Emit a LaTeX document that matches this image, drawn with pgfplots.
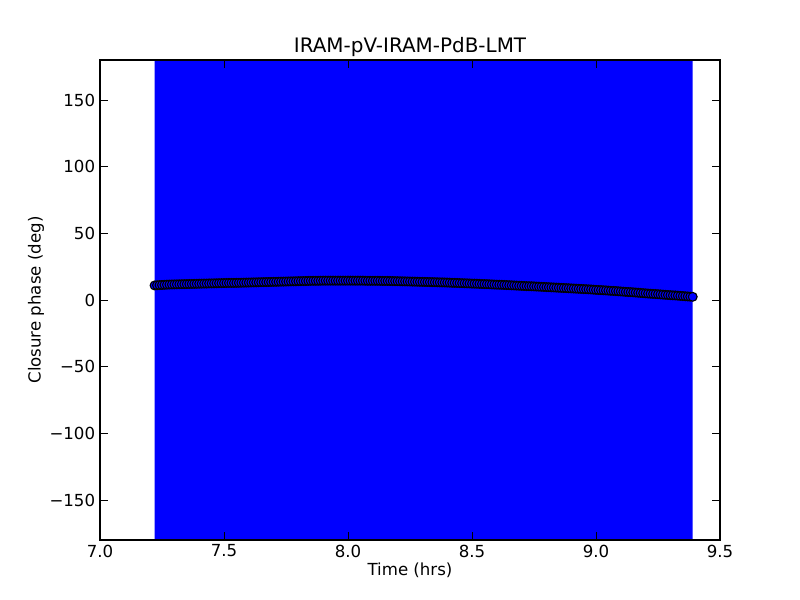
\documentclass[border=0pt]{standalone}
\usepackage{pgfplots}
\pgfplotsset{compat=1.18}
\usepackage{fontspec}
\setmainfont{DejaVu Sans}
\pgfplotstableread{
t cp
7.22 10.9
7.23 11.05
7.24 11.2
7.25 11.3
7.26 11.4
7.27 11.5
7.28 11.6
7.29 11.65
7.30 11.7
7.31 11.75
7.32 11.8
7.33 11.85
7.34 11.9
7.35 11.95
7.36 12.0
7.37 12.05
7.38 12.1
7.39 12.15
7.40 12.2
7.41 12.25
7.42 12.3
7.43 12.35
7.44 12.4
7.45 12.45
7.46 12.5
7.47 12.55
7.48 12.6
7.49 12.65
7.50 12.7
7.51 12.75
7.52 12.8
7.53 12.8
7.54 12.8
7.55 12.85
7.56 12.9
7.57 12.95
7.58 13.0
7.59 13.05
7.60 13.1
7.61 13.15
7.62 13.2
7.63 13.25
7.64 13.3
7.65 13.35
7.66 13.4
7.67 13.45
7.68 13.5
7.69 13.55
7.70 13.6
7.71 13.65
7.72 13.7
7.73 13.75
7.74 13.8
7.75 13.85
7.76 13.9
7.77 13.95
7.78 14.0
7.79 14.05
7.80 14.1
7.81 14.15
7.82 14.2
7.83 14.25
7.84 14.3
7.85 14.35
7.86 14.4
7.87 14.4
7.88 14.4
7.89 14.45
7.90 14.5
7.91 14.5
7.92 14.5
7.93 14.5
7.94 14.5
7.95 14.5
7.96 14.5
7.97 14.5
7.98 14.5
7.99 14.5
8.00 14.5
8.01 14.5
8.02 14.5
8.03 14.5
8.04 14.5
8.05 14.5
8.06 14.5
8.07 14.45
8.08 14.4
8.09 14.4
8.10 14.4
8.11 14.4
8.12 14.4
8.13 14.35
8.14 14.3
8.15 14.3
8.16 14.3
8.17 14.25
8.18 14.2
8.19 14.15
8.20 14.1
8.21 14.05
8.22 14.0
8.23 13.95
8.24 13.9
8.25 13.85
8.26 13.8
8.27 13.75
8.28 13.7
8.29 13.65
8.30 13.6
8.31 13.55
8.32 13.5
8.33 13.45
8.34 13.4
8.35 13.35
8.36 13.3
8.37 13.25
8.38 13.2
8.39 13.15
8.40 13.1
8.41 13.0
8.42 12.9
8.43 12.85
8.44 12.8
8.45 12.7
8.46 12.6
8.47 12.55
8.48 12.5
8.49 12.4
8.50 12.3
8.51 12.25
8.52 12.2
8.53 12.1
8.54 12.0
8.55 11.95
8.56 11.9
8.57 11.8
8.58 11.7
8.59 11.6
8.60 11.5
8.61 11.45
8.62 11.4
8.63 11.3
8.64 11.2
8.65 11.1
8.66 11.0
8.67 10.9
8.68 10.8
8.69 10.7
8.70 10.6
8.71 10.5
8.72 10.4
8.73 10.35
8.74 10.3
8.75 10.2
8.76 10.1
8.77 10.0
8.78 9.9
8.79 9.8
8.80 9.7
8.81 9.6
8.82 9.5
8.83 9.4
8.84 9.3
8.85 9.2
8.86 9.1
8.87 9.0
8.88 8.9
8.89 8.8
8.90 8.7
8.91 8.6
8.92 8.5
8.93 8.4
8.94 8.3
8.95 8.2
8.96 8.1
8.97 8.0
8.98 7.9
8.99 7.75
9.00 7.6
9.01 7.5
9.02 7.4
9.03 7.3
9.04 7.2
9.05 7.05
9.06 6.9
9.07 6.8
9.08 6.7
9.09 6.55
9.10 6.4
9.11 6.25
9.12 6.1
9.13 6.0
9.14 5.9
9.15 5.75
9.16 5.6
9.17 5.45
9.18 5.3
9.19 5.15
9.20 5.0
9.21 4.85
9.22 4.7
9.23 4.6
9.24 4.5
9.25 4.35
9.26 4.2
9.27 4.05
9.28 3.9
9.29 3.75
9.30 3.6
9.31 3.5
9.32 3.4
9.33 3.25
9.34 3.1
9.35 2.95
9.36 2.8
9.37 2.65
9.38 2.5
9.39 2.4
}\cpdata
\begin{document}
\begin{tikzpicture}
\useasboundingbox (-1in,-0.6in) rectangle (7.0in,5.4in);
\begin{axis}[
  scale only axis,
  width=6.2in, height=4.8in,
  xmin=7.0, xmax=9.5, ymin=-180, ymax=180,
  xtick={7.0,7.5,...,9.5},
  ytick={-150,-100,-50,0,50,100,150},
  yticklabels={−150,−100,−50,0,50,100,150},
  tick align=inside,
  major tick length=5.5pt,
  minor tick num=0,
  axis line style={line width=0.8pt},
  every tick/.style={black, line width=0.6pt},
  tick label style={font=\fontsize{12}{14}\selectfont},
  /pgf/number format/assume math mode=true,
  xticklabel style={/pgf/number format/.cd, fixed, fixed zerofill, precision=1},
  xlabel={Time (hrs)},
  ylabel={Closure phase (deg)},
  label style={font=\fontsize{12}{14}\selectfont},
  xlabel style={yshift=3pt},
  ylabel style={yshift=-3pt},
  title={IRAM-pV-IRAM-PdB-LMT},
  title style={font=\fontsize{14.4}{16}\selectfont, yshift=-7pt},
  axis on top,
]
\addplot[draw=none, fill={rgb,255:red,0;green,0;blue,255}] coordinates {(7.22,-180) (9.39,-180) (9.39,180) (7.22,180) (7.22,-180)};
\addplot[only marks, mark=*, mark size=3.2pt,
  mark options={fill={rgb,255:red,0;green,0;blue,255}, draw=black, line width=0.8pt}]
  table[x=t, y=cp] {\cpdata};
\end{axis}
\end{tikzpicture}
\end{document}
